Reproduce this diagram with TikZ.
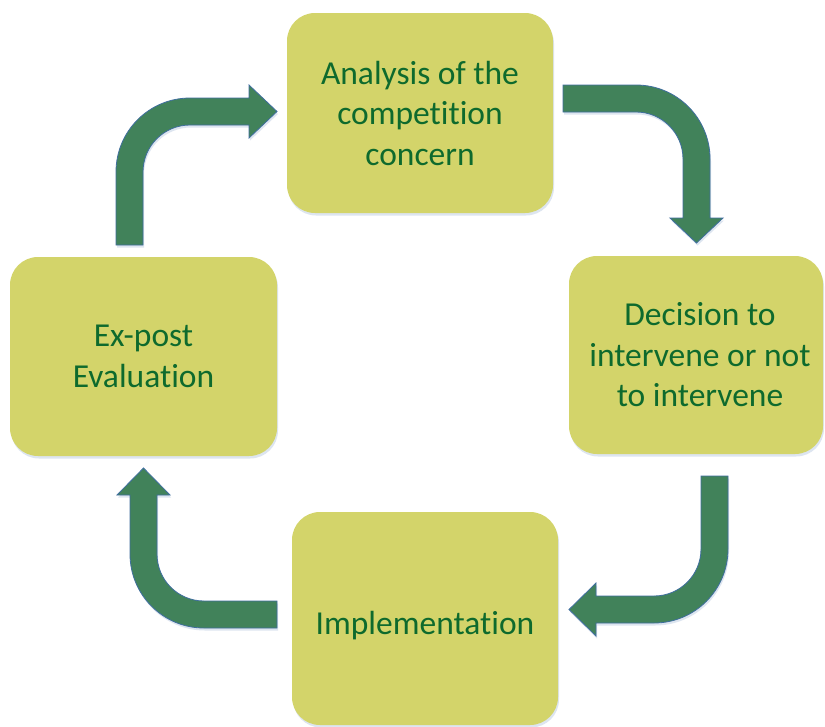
\documentclass[tikz,border=0pt]{standalone}
\usepackage{fontspec}
\setmainfont{Carlito}[Ligatures={NoCommon,NoContextual,NoRare},Contextuals=NoAlternate]
\usetikzlibrary{shadows}
\definecolor{boxfill}{HTML}{D3D46A}
\definecolor{txtgreen}{HTML}{0E6A2D}
\definecolor{arrowfill}{HTML}{41825A}
\definecolor{arrowline}{HTML}{3F6E9E}
\definecolor{glow}{HTML}{9FB6D6}
\tikzset{
  stagebox/.style={rectangle, rounded corners=28pt, fill=boxfill, draw=none,
    text=txtgreen, align=center, inner sep=0pt,
    font=\fontsize{33.5}{40.5}\selectfont,
    drop shadow={shadow xshift=1pt, shadow yshift=-2.5pt, fill=glow, opacity=0.35}},
  bentarrow/.style={fill=arrowfill, draw=arrowline, line width=0.8pt, line join=miter,
    drop shadow={shadow xshift=1pt, shadow yshift=-2.5pt, fill=glow, opacity=0.35}}
}
\begin{document}
\begin{tikzpicture}[x=1pt, y=-1pt]
\useasboundingbox (0,0) rectangle (825,726);
\fill[white] (0,0) rectangle (825,726);

% boxes
\node[stagebox, minimum width=266pt, minimum height=200pt] (analysis) at (420,113)
  {Analysis of the\\competition\\concern};
\node[stagebox, minimum width=254pt, minimum height=198pt] (decision) at (696,355)
  {\hspace*{8pt}Decision to\\\hspace*{8pt}intervene or not\\\hspace*{8pt}to intervene};
\node[stagebox, minimum width=266pt, minimum height=213pt] (implementation) at (425,618.5)
  {\rule{0pt}{38pt}Implementation};
\node[stagebox, minimum width=267pt, minimum height=199pt] (evaluation) at (143.5,356.5)
  {Ex-post\\Evaluation};

% arrow: evaluation -> analysis
\path[bentarrow] (143,245) -- (116,245) -- (116,172)
  .. controls (116,131.1) and (149.1,98) .. (190,98)
  -- (249,98) -- (249,85) -- (277,111.5) -- (249,138) -- (249,125) -- (190,125)
  .. controls (164,125) and (143,146) .. (143,172) -- cycle;

% arrow: analysis -> decision
\path[bentarrow] (563,85) -- (636,85)
  .. controls (676.9,85) and (710,118.1) .. (710,159)
  -- (710,218) -- (723,218) -- (696.5,243) -- (670,218) -- (683,218) -- (683,159)
  .. controls (683,133) and (662,112) .. (636,112) -- (563,112) -- cycle;

% arrow: decision -> implementation
\path[bentarrow] (701,476) -- (728,476) -- (728,549)
  .. controls (728,589.9) and (694.9,623) .. (654,623)
  -- (596,623) -- (596,636) -- (569,609.5) -- (596,583) -- (596,596) -- (654,596)
  .. controls (680,596) and (701,575) .. (701,549) -- cycle;

% arrow: implementation -> evaluation
\path[bentarrow] (277,628) -- (204,628)
  .. controls (163.1,628) and (130,594.9) .. (130,554)
  -- (130,495) -- (117,495) -- (143.5,468) -- (170,495) -- (157,495) -- (157,554)
  .. controls (157,580) and (178,601) .. (204,601) -- (277,601) -- cycle;
\end{tikzpicture}
\end{document}
